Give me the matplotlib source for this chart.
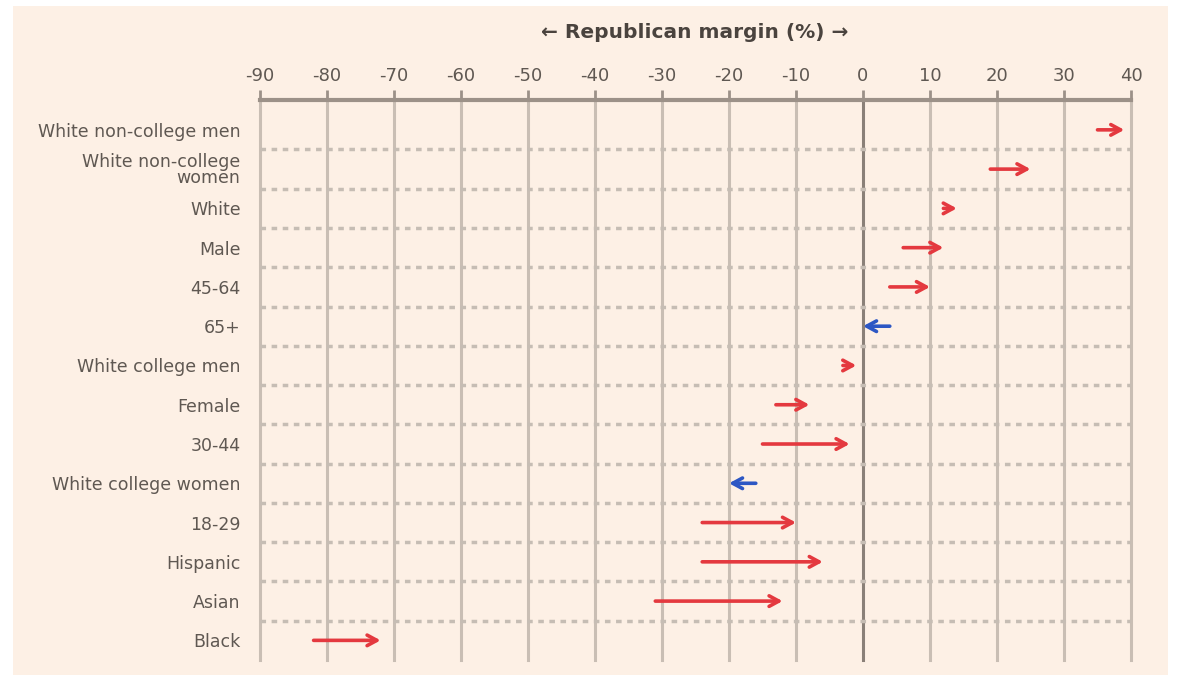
import matplotlib.pyplot as plt
from matplotlib.patches import Rectangle

# groups, top to bottom
groups = ['White non-college men', 'White non-college\nwomen', 'White', 'Male',
          '45-64', '65+', 'White college men', 'Female', '30-44',
          'White college women', '18-29', 'Hispanic', 'Asian', 'Black']
# Republican margin (%) in 2016 (start) and 2020 (end)
start = [35, 19, 12, 6, 4, 4, -3, -13, -15, -16, -24, -24, -31, -82]
end = [39, 25, 14, 12, 10, 0, -1, -8, -2, -20, -10, -6, -12, -72]

xticks = list(range(-90, 41, 10))

bg = '#fdf0e5'
red = '#e4393f'
blue = '#2d57c4'
grey_txt = '#5f5852'

plt.rcParams['font.family'] = ['DejaVu Sans']

fig = plt.figure(figsize=(11.78, 6.81), dpi=100)
fig.patch.set_facecolor('white')
fig.patches.append(Rectangle((13 / 1178, 6 / 681), 1155 / 1178, 669 / 681,
                             transform=fig.transFigure, facecolor=bg,
                             edgecolor='none', zorder=-10))

ax = fig.add_axes([260 / 1178, 21 / 681, 871 / 1178, 560 / 681])
ax.set_zorder(1)
ax.set_facecolor('none')
ax.set_xlim(-90, 40)
ax.set_ylim(13.5, -0.76)
for s in ax.spines.values():
    s.set_visible(False)

# vertical grid
for x in xticks:
    col = '#8a8078' if x == 0 else '#c9beb4'
    ax.axvline(x, color=col, lw=2.2, zorder=1, clip_on=False)

# dotted separators between rows
for i in range(len(groups) - 1):
    ax.axhline(i + 0.5, color='#c6bdb4', lw=2.5, ls=(0, (1.6, 1.6)), zorder=1)

# top axis line with ticks
ax.axhline(-0.76, color='#9c9188', lw=3, zorder=2, clip_on=False)
ax.xaxis.tick_top()
ax.set_xticks(xticks)
ax.set_xticklabels([str(x) for x in xticks])
ax.tick_params(axis='x', length=7, width=2, color='#9c9188', labelcolor=grey_txt,
               labelsize=13, pad=4)

ax.set_yticks(range(len(groups)))
ax.set_yticklabels(groups, fontsize=12.5, color=grey_txt, linespacing=0.85)
ax.tick_params(axis='y', length=0, pad=14)

# arrows
for i, (a, b) in enumerate(zip(start, end)):
    col = red if b > a else blue
    ax.annotate('', xy=(b, i), xytext=(a, i),
                arrowprops=dict(arrowstyle='->,head_length=0.7,head_width=0.38',
                                color=col, lw=2.6, shrinkA=0, shrinkB=0),
                zorder=3)

fig.text(695 / 1178, 1 - 33 / 681, '\u2190 Republican margin (%) \u2192',
         ha='center', va='center', fontsize=14.5, color='#4a433e',
         fontweight='bold')

plt.savefig('out.png', dpi=100, facecolor=fig.get_facecolor())
